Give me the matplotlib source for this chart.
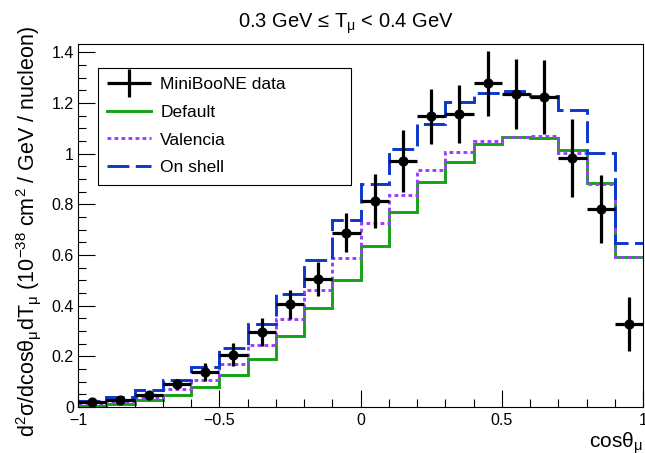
import numpy as np
import matplotlib
matplotlib.use("Agg")
import matplotlib.pyplot as plt
from matplotlib.ticker import MultipleLocator, FuncFormatter
from matplotlib.legend_handler import HandlerErrorbar

plt.rcParams['font.family'] = ['Liberation Sans', 'DejaVu Sans']
plt.rcParams['mathtext.default'] = 'regular'

# bin edges in cos(theta_mu)
edges = np.round(np.arange(-1.0, 1.0001, 0.1), 2)
centers = np.round(edges[:-1] + 0.05, 3)

# MiniBooNE data
data = [0.020, 0.029, 0.049, 0.092, 0.138, 0.207, 0.296, 0.405, 0.506, 0.688,
        0.814, 0.971, 1.147, 1.157, 1.278, 1.235, 1.223, 0.983, 0.781, 0.328]
data_err = [0.006, 0.008, 0.012, 0.020, 0.036, 0.047, 0.056, 0.058, 0.066, 0.076,
            0.106, 0.123, 0.110, 0.115, 0.128, 0.138, 0.146, 0.155, 0.135, 0.107]

# model predictions
default = [0.005, 0.011, 0.026, 0.046, 0.079, 0.125, 0.191, 0.279, 0.389, 0.503,
           0.636, 0.768, 0.887, 0.968, 1.037, 1.067, 1.063, 1.015, 0.883, 0.593]
valencia = [0.013, 0.020, 0.040, 0.073, 0.108, 0.169, 0.244, 0.349, 0.461, 0.590,
            0.727, 0.837, 0.936, 1.006, 1.051, 1.067, 1.071, 1.002, 0.880, 0.593]
onshell = [0.024, 0.040, 0.066, 0.105, 0.158, 0.231, 0.327, 0.448, 0.580, 0.738,
           0.879, 1.017, 1.116, 1.205, 1.238, 1.248, 1.228, 1.172, 1.002, 0.646]

fig = plt.figure(figsize=(6.45, 4.53), dpi=100)
ax = fig.add_axes([0.121, 0.1015, 0.876, 0.8015])

ax.stairs(default, edges, baseline=None, color="#16a216", lw=2.1, label="Default")
ax.stairs(valencia, edges, baseline=None, color="#9b3eff", lw=2.1,
          linestyle=(0, (1.3, 1.1)), label="Valencia")
ax.stairs(onshell, edges, baseline=None, color="#0b36cc", lw=2.1,
          linestyle=(0, (7.5, 2.2)), label="On shell")
ax.errorbar(centers, data, xerr=0.05, yerr=data_err, fmt='o', color='k',
            ms=6.3, elinewidth=2.3, capsize=0, zorder=5)

# legend proxy: plain cross without the dot
proxy = ax.errorbar([], [], xerr=[], yerr=[], fmt='none', ecolor='k', elinewidth=2.3)

h, l = ax.get_legend_handles_labels()
handles = [proxy, h[l.index("Default")], h[l.index("Valencia")], h[l.index("On shell")]]
labels = ["MiniBooNE data", "Default", "Valencia", "On shell"]
leg = ax.legend(handles, labels, loc='upper left', bbox_to_anchor=(0.035, 0.614, 0.448, 0.321),
                mode='expand', borderaxespad=0, fontsize=12.5, handlelength=2.5,
                handletextpad=0.55, labelspacing=0.72, borderpad=0.55,
                fancybox=False, edgecolor='k', framealpha=1,
                handler_map={type(proxy): HandlerErrorbar(xerr_size=1.25, yerr_size=0.8)})
leg.get_frame().set_linewidth(0.8)

ax.set_xlim(-1, 1)
ax.set_ylim(0, 1.433)
ax.xaxis.set_major_locator(MultipleLocator(0.5))
ax.xaxis.set_minor_locator(MultipleLocator(0.1))
ax.yaxis.set_major_locator(MultipleLocator(0.2))
ax.yaxis.set_minor_locator(MultipleLocator(0.05))
fmt = FuncFormatter(lambda v, p: ("%g" % round(v, 2)).replace("-", "\u2212"))
ax.xaxis.set_major_formatter(fmt)
ax.yaxis.set_major_formatter(fmt)
ax.tick_params(which='both', direction='in', top=False, right=False, labelsize=11.5)
ax.tick_params(which='major', length=12, width=0.8)
ax.tick_params(which='minor', length=6, width=0.8)
ax.tick_params(axis='x', pad=4)
ax.tick_params(axis='y', pad=3)
for s in ax.spines.values():
    s.set_linewidth(0.8)

ax.set_title("0.3 GeV \u2264 T$_{\u03bc}$ < 0.4 GeV", fontsize=14.5, x=0.474, pad=12)
ax.set_xlabel("cos\u03b8$_{\u03bc}$", fontsize=15, loc='right', labelpad=2)
ax.set_ylabel("d$^{2}$\u03c3/dcos\u03b8$_{\u03bc}$dT$_{\u03bc}$ (10$^{-38}$ cm$^{2}$ / GeV / nucleon)",
              fontsize=15.5)
ax.yaxis.set_label_coords(-0.062, 0.482)

fig.savefig("out.png", dpi=100)
